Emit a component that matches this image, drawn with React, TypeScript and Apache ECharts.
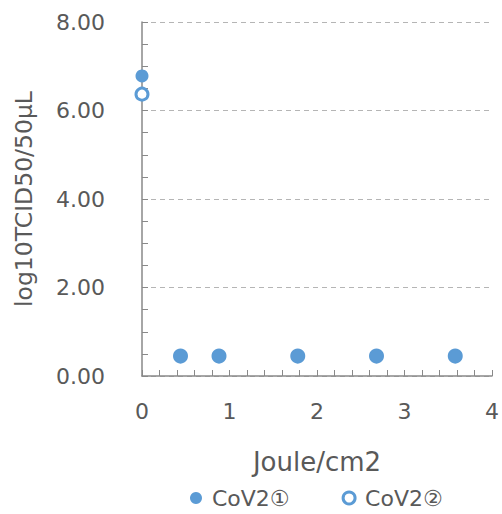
import React, { useEffect, useRef } from "react";
import * as echarts from "echarts";

const xCov1 = [0, 0.44, 0.88, 1.78, 2.68, 3.58];
const yCov1 = [6.78, 0.45, 0.45, 0.45, 0.45, 0.45];
const xCov2 = [0, 0.44, 0.88, 1.78, 2.68, 3.58];
const yCov2 = [6.37, 0.45, 0.45, 0.45, 0.45, 0.45];
const seriesNames = ["CoV2①", "CoV2②"];

const FONT = "'DejaVu Sans', 'Noto Sans CJK JP', sans-serif";
const TXT = "#595959";
const BLUE = "#5B9BD5";
const AXIS = "#898989";

export default function App() {
  const ref = useRef<HTMLDivElement>(null);
  useEffect(() => {
    if (!ref.current) return;
    const chart = echarts.init(ref.current, null, { renderer: "svg" });
    chart.setOption({
      animation: false,
      grid: { left: 142, right: 6, top: 22, bottom: 138 },
      xAxis: {
        type: "value",
        min: 0,
        max: 4,
        interval: 1,
        name: "Joule/cm2",
        nameLocation: "middle",
        nameGap: 73,
        nameTextStyle: { color: TXT, fontSize: 26, fontFamily: FONT },
        axisLine: { lineStyle: { color: AXIS, width: 1.5 } },
        axisTick: { show: true, inside: true, length: 6, lineStyle: { color: AXIS } },
        minorTick: { show: true, splitNumber: 5, length: 6, lineStyle: { color: AXIS } },
        axisLabel: { color: TXT, fontSize: 22, fontFamily: FONT, margin: 24 },
        splitLine: { show: false },
      },
      yAxis: {
        type: "value",
        min: 0,
        max: 8,
        interval: 2,
        name: "log10TCID50/50μL",
        nameLocation: "middle",
        nameGap: 106,
        nameTextStyle: { color: TXT, fontSize: 23.5, fontFamily: FONT },
        axisLine: { show: true, lineStyle: { color: AXIS, width: 1.5 } },
        axisTick: { show: true, inside: true, length: 6, lineStyle: { color: AXIS } },
        minorTick: { show: true, splitNumber: 4, length: 6, lineStyle: { color: AXIS } },
        axisLabel: {
          color: TXT,
          fontSize: 22,
          fontFamily: FONT,
          margin: 37,
          formatter: (v: number) => v.toFixed(2),
        },
        splitLine: { show: true, lineStyle: { color: "#B5B5B5", type: [5, 4] } },
      },
      legend: {
        top: 482,
        left: 185,
        itemGap: 52,
        itemWidth: 22,
        itemHeight: 12,
        textStyle: { color: TXT, fontSize: 22, fontFamily: FONT },
        data: [
          { name: seriesNames[0], icon: "circle", itemStyle: { color: BLUE, opacity: 1 } },
          {
            name: seriesNames[1],
            icon: "circle",
            itemStyle: { color: "#fff", borderColor: BLUE, borderWidth: 3, opacity: 1 },
          },
        ],
      },
      series: [
        {
          name: seriesNames[1],
          type: "scatter",
          symbol: "circle",
          symbolSize: 12,
          z: 2,
          itemStyle: { color: "#fff", borderColor: BLUE, borderWidth: 3, opacity: 1 },
          emphasis: { disabled: true },
          data: xCov2.map((x, i) => [x, yCov2[i]]),
        },
        {
          name: seriesNames[0],
          type: "scatter",
          symbol: "circle",
          symbolSize: 13,
          z: 3,
          itemStyle: { color: BLUE, opacity: 1 },
          emphasis: { disabled: true },
          data: xCov1.map((x, i) => [x, yCov1[i]]),
        },
      ],
    });
    return () => chart.dispose();
  }, []);
  return <div ref={ref} style={{ width: 502, height: 514, position: "absolute", left: 0, top: 0 }} />;
}
